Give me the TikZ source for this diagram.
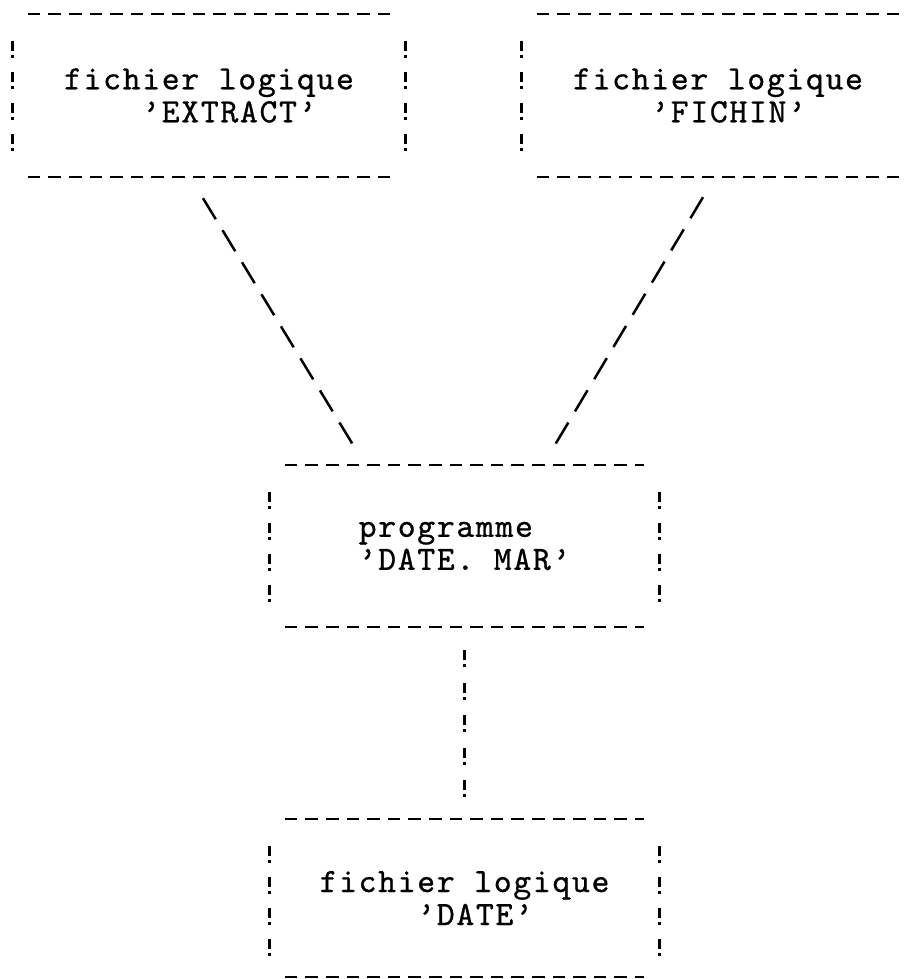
\documentclass[tikz,border=0pt]{standalone}
\usepackage{fontspec}
\newfontfamily\typewriter{lmmono10-regular.otf}[LetterSpace=5, FakeBold=0.8]

\newcommand{\typefont}{\typewriter\fontsize{34}{33}\selectfont}
% one typewriter column
\newcommand{\cols}[1]{\hspace*{#1\dimexpr 19.55pt\relax}}

\begin{document}
\begin{tikzpicture}[x=1pt, y=-1pt,
    filebox/.style={rectangle, inner sep=0pt, minimum width=392pt, minimum height=163pt, align=left, font=\typefont},
    hdash/.style={line width=2.5pt, dash pattern=on 12.6pt off 8pt},
    bangs/.style={line width=3pt, dash pattern=on 10pt off 4pt on 3pt off 14pt},
    slash/.style={line width=2.5pt, dash pattern=on 24.5pt off 13pt},
]
\clip (0,0) rectangle (910,979);
% logical files on top
\node[filebox] (extract) at (209,95.5) {fichier logique\\\cols{4}’EXTRACT’};
\node[filebox] (fichin) at (718,95.5) {fichier logique\\\cols{4}’FICHIN’};
% program
\node[filebox, minimum width=389pt, minimum height=162pt] (prog) at (464.5,546) {programme\\’DATE. MAR’};
% output file
\node[filebox, minimum width=389pt, minimum height=158pt] (date) at (464.5,898) {fichier logique\\\cols{5}’DATE’};

% typed borders: dashes on top and bottom, bangs on the sides
\foreach \b in {extract,fichin,prog,date} {
  \draw[hdash] ([xshift=15pt]\b.north west) -- ([xshift=-15pt]\b.north east);
  \draw[hdash] ([xshift=15pt]\b.south west) -- ([xshift=-15pt]\b.south east);
  \draw[bangs] ([yshift=-27pt]\b.north west) -- ([yshift=18pt]\b.south west);
  \draw[bangs] ([yshift=-27pt]\b.north east) -- ([yshift=18pt]\b.south east);
}

% links
\draw[slash] ([xshift=-6pt,yshift=-21pt]extract.south) -- ([xshift=-111.5pt,yshift=20pt]prog.north);
\draw[slash] ([xshift=-15pt,yshift=-20pt]fichin.south) -- ([xshift=90.5pt,yshift=20pt]prog.north);
\draw[bangs, dash pattern=on 10pt off 4pt on 3pt off 15.5pt] ([yshift=-23pt]prog.south) -- ([yshift=22pt]date.north);
\end{tikzpicture}
\end{document}
